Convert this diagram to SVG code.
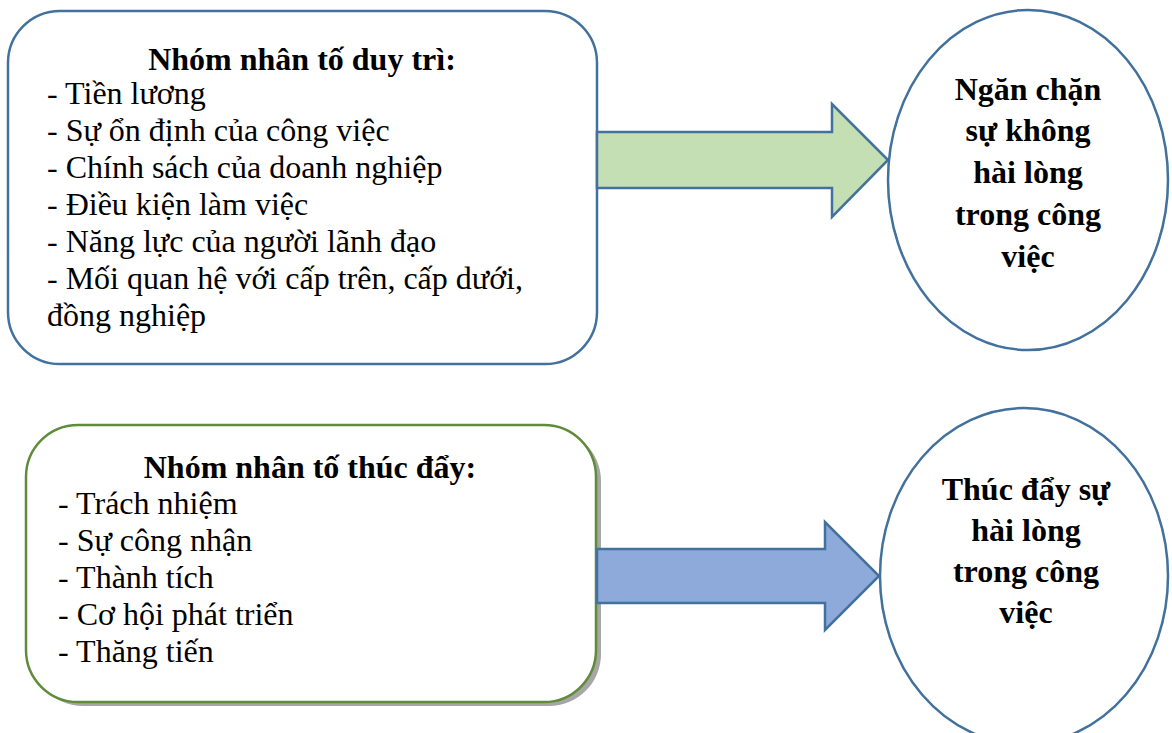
<svg xmlns="http://www.w3.org/2000/svg" width="1172" height="733" viewBox="0 0 1172 733">
<defs>
<style>
.t{font-family:"Liberation Serif","Times New Roman",serif;font-size:32px;fill:#000}
.b{font-weight:bold;text-anchor:middle}
.bx{fill:#fff;stroke-width:2.5}
.el{fill:#fff;stroke:#41719c;stroke-width:2.5}
.ar{stroke:#41719c;stroke-width:2.5;stroke-linejoin:miter}
</style>
</defs>
<rect width="1172" height="733" fill="#fff"/>
<g id="node-duytri">
<rect class="bx" x="8" y="11" width="589" height="353" rx="52" ry="52" stroke="#41719c"/>
<text class="t b" x="302" y="70">Nhóm nhân tố duy trì:</text>
<text class="t" x="47" y="104">- Tiền lương</text>
<text class="t" x="47" y="141">- Sự ổn định của công việc</text>
<text class="t" x="47" y="178">- Chính sách của doanh nghiệp</text>
<text class="t" x="47" y="215">- Điều kiện làm việc</text>
<text class="t" x="47" y="252">- Năng lực của người lãnh đạo</text>
<text class="t" x="47" y="289">- Mối quan hệ với cấp trên, cấp dưới,</text>
<text class="t" x="47" y="326">đồng nghiệp</text>
</g>
<g id="node-thucday">
<rect x="31" y="429" width="570" height="277" rx="52" ry="52" fill="#a6a6a6"/>
<rect class="bx" x="26" y="425" width="570" height="277" rx="52" ry="52" stroke="#5e8c3b"/>
<text class="t b" x="310" y="478">Nhóm nhân tố thúc đẩy:</text>
<text class="t" x="58" y="514">- Trách nhiệm</text>
<text class="t" x="58" y="551">- Sự công nhận</text>
<text class="t" x="58" y="588">- Thành tích</text>
<text class="t" x="58" y="625">- Cơ hội phát triển</text>
<text class="t" x="58" y="662">- Thăng tiến</text>
</g>
<g id="node-ngan">
<ellipse class="el" cx="1028" cy="180" rx="140" ry="170"/>
<text class="t b" x="1028" y="100">Ngăn chặn</text>
<text class="t b" x="1028" y="141">sự không</text>
<text class="t b" x="1028" y="183">hài lòng</text>
<text class="t b" x="1028" y="225">trong công</text>
<text class="t b" x="1028" y="267">việc</text>
</g>
<g id="node-thuc">
<ellipse class="el" cx="1024" cy="576" rx="144" ry="168"/>
<text class="t b" x="1026" y="500">Thúc đẩy sự</text>
<text class="t b" x="1026" y="541">hài lòng</text>
<text class="t b" x="1026" y="582">trong công</text>
<text class="t b" x="1026" y="623">việc</text>
</g>
<g id="connectors">
<polygon class="ar" fill="#c4dfb4" points="597,132 832,132 832,104 888,160 832,217 832,188 597,188"/>
<polygon class="ar" fill="#8eaadb" points="597,549 825,549 825,522 879,576 825,630 825,603 597,603"/>
</g>
</svg>
